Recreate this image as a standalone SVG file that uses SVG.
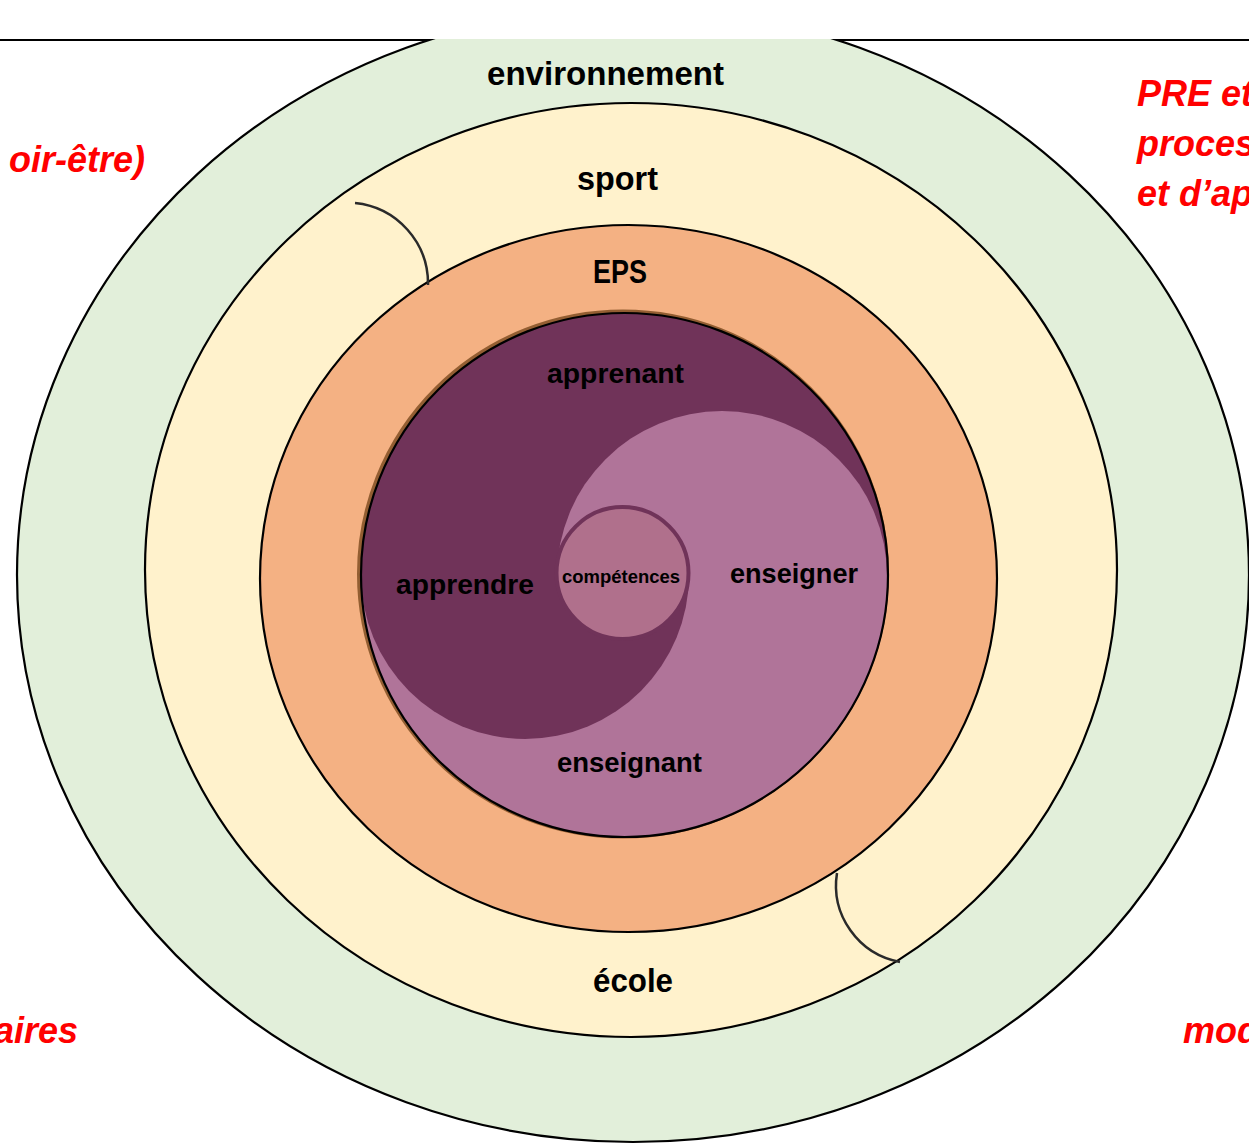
<svg xmlns="http://www.w3.org/2000/svg" width="1249" height="1145" viewBox="0 0 1249 1145">
<style>
.ring{stroke:#000;stroke-width:2.2}
.lbl{font-family:"Liberation Sans",Arial,sans-serif;font-weight:bold;fill:#000;text-anchor:middle}
.red{font-family:"Liberation Sans",Arial,sans-serif;font-weight:bold;font-style:italic;fill:#FF0000;font-size:36px}
.arc{fill:none;stroke:#2a2a2a;stroke-width:2.5}
</style>
<defs>
<clipPath id="below"><rect x="0" y="39" width="1249" height="1106"/></clipPath>
<clipPath id="inner"><ellipse cx="624.5" cy="575" rx="263.5" ry="262"/></clipPath>
</defs>
<rect width="1249" height="1145" fill="#fff"/>
<line x1="0" y1="40" x2="1249" y2="40" stroke="#000" stroke-width="2.2"/>
<g id="environnement">
<ellipse class="ring" cx="633" cy="575" rx="616" ry="567" fill="#E2EFDA" clip-path="url(#below)"/>
<text class="lbl" x="605.5" y="85" font-size="33" textLength="237" lengthAdjust="spacingAndGlyphs">environnement</text>
</g>
<g id="sport">
<ellipse class="ring" cx="631" cy="570" rx="486" ry="467" fill="#FFF2CC"/>
<text class="lbl" x="617.5" y="190" font-size="33" textLength="81" lengthAdjust="spacingAndGlyphs">sport</text>
</g>
<g id="ecole">
<text class="lbl" x="633" y="992" font-size="33" textLength="80" lengthAdjust="spacingAndGlyphs">école</text>
</g>
<g id="EPS">
<ellipse class="ring" cx="628.5" cy="578.5" rx="368.5" ry="353.5" fill="#F4B183"/>
<text class="lbl" x="620" y="283" font-size="33" textLength="54" lengthAdjust="spacingAndGlyphs">EPS</text>
</g>
<g id="apprenant-enseignant">
<ellipse cx="623" cy="574" rx="264" ry="262.5" fill="none" stroke="#7B4A1E" stroke-width="4" opacity="0.8"/>
<g clip-path="url(#inner)">
<rect x="350" y="300" width="560" height="560" fill="#B07499"/>
<rect x="350" y="300" width="560" height="276" fill="#703359"/>
<path d="M557,576 A165,165 0 0 1 887,576 Z" fill="#B07499"/>
<path d="M361,575 A164,164 0 0 0 689,575 Z" fill="#703359"/>
</g>
<ellipse cx="624.5" cy="575" rx="263.5" ry="262" fill="none" stroke="#000" stroke-width="2.2"/>
<text class="lbl" x="615.5" y="383" font-size="28" textLength="137" lengthAdjust="spacingAndGlyphs">apprenant</text>
<text class="lbl" x="629.5" y="772" font-size="28" textLength="145" lengthAdjust="spacingAndGlyphs">enseignant</text>
</g>
<g id="apprendre">
<text class="lbl" x="465" y="594" font-size="28" textLength="138" lengthAdjust="spacingAndGlyphs">apprendre</text>
</g>
<g id="enseigner">
<text class="lbl" x="794" y="583" font-size="28" textLength="128" lengthAdjust="spacingAndGlyphs">enseigner</text>
</g>
<g id="competences">
<circle cx="622.5" cy="573" r="66" fill="#B0708C" stroke="#703359" stroke-width="4"/>
<text class="lbl" x="621" y="583" font-size="18" textLength="118" lengthAdjust="spacingAndGlyphs">compétences</text>
</g>
<g id="connectors">
<path class="arc" d="M355,203 A81,81 0 0 1 428,285"/>
<path class="arc" d="M837,873 A78,78 0 0 0 900,962"/>
</g>
<g id="notes">
<text class="red" x="145" y="172" text-anchor="end">oir-être)</text>
<text class="red" x="1137" y="106">PRE et</text>
<text class="red" x="1137" y="156">proces</text>
<text class="red" x="1137" y="206">et d’ap</text>
<text class="red" x="78" y="1043" text-anchor="end">aires</text>
<text class="red" x="1183" y="1043">mod</text>
</g>
</svg>
